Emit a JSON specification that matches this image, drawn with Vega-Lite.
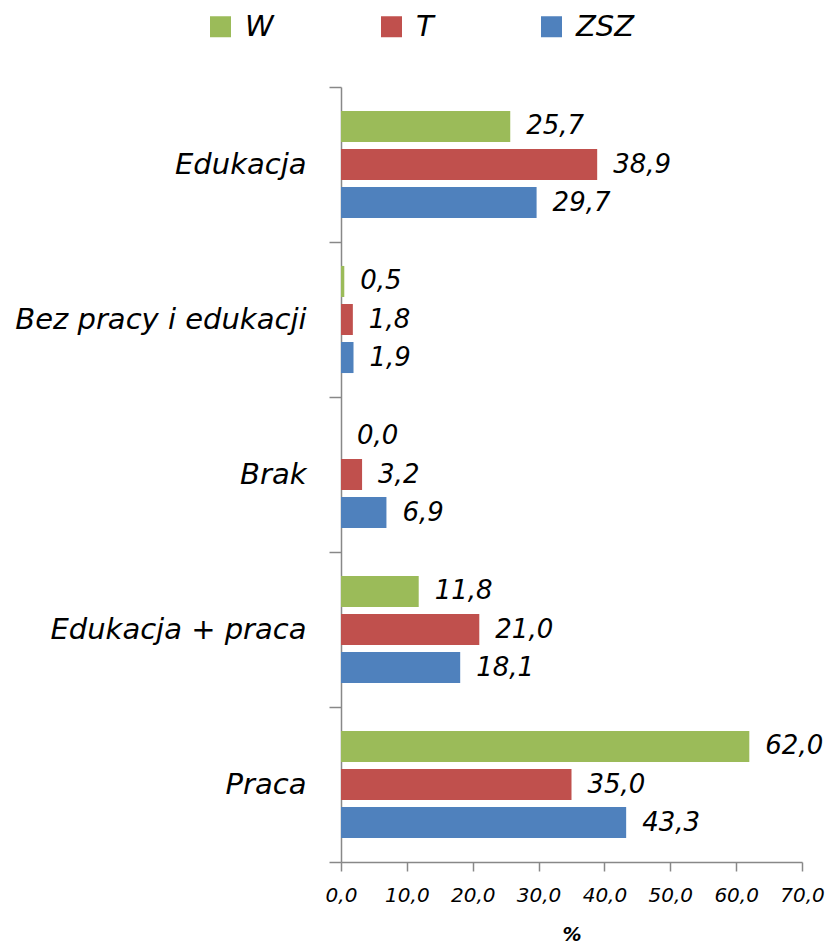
{
  "$schema": "https://vega.github.io/schema/vega-lite/v6.json",
  "width": 461,
  "height": 775,
  "autosize": "none",
  "padding": {"left": 341, "top": 87, "right": 27, "bottom": 86},
  "config": {
    "locale": {"number": {"decimal": ",", "thousands": " ", "grouping": [3], "currency": ["", " zł"]}},
    "view": {"stroke": null},
    "font": "DejaVu Sans"
  },
  "data": {
    "values": [
      {"cat": "Edukacja", "grp": "W", "v": 25.7},
      {"cat": "Edukacja", "grp": "T", "v": 38.9},
      {"cat": "Edukacja", "grp": "ZSZ", "v": 29.7},
      {"cat": "Bez pracy i edukacji", "grp": "W", "v": 0.5},
      {"cat": "Bez pracy i edukacji", "grp": "T", "v": 1.8},
      {"cat": "Bez pracy i edukacji", "grp": "ZSZ", "v": 1.9},
      {"cat": "Brak", "grp": "W", "v": 0.0},
      {"cat": "Brak", "grp": "T", "v": 3.2},
      {"cat": "Brak", "grp": "ZSZ", "v": 6.9},
      {"cat": "Edukacja + praca", "grp": "W", "v": 11.8},
      {"cat": "Edukacja + praca", "grp": "T", "v": 21.0},
      {"cat": "Edukacja + praca", "grp": "ZSZ", "v": 18.1},
      {"cat": "Praca", "grp": "W", "v": 62.0},
      {"cat": "Praca", "grp": "T", "v": 35.0},
      {"cat": "Praca", "grp": "ZSZ", "v": 43.3}
    ]
  },
  "encoding": {
    "y": {
      "field": "cat",
      "type": "nominal",
      "sort": ["Edukacja", "Bez pracy i edukacji", "Brak", "Edukacja + praca", "Praca"],
      "scale": {"paddingInner": 0, "paddingOuter": 0},
      "axis": {
        "title": null,
        "domainColor": "#888888",
        "domainWidth": 1.5,
        "tickColor": "#888888",
        "tickWidth": 1.5,
        "tickSize": 12,
        "tickBand": "extent",
        "labelFontSize": 29,
        "labelFontStyle": "italic",
        "labelColor": "#000000",
        "labelPadding": 23,
        "labelLimit": 400
      }
    },
    "yOffset": {
      "field": "grp",
      "type": "nominal",
      "sort": ["W", "T", "ZSZ"],
      "scale": {"paddingInner": 0.184, "paddingOuter": 0.63}
    },
    "x": {
      "field": "v",
      "type": "quantitative",
      "scale": {"domain": [0, 70], "nice": false},
      "axis": {
        "title": "%",
        "titleFontStyle": "italic",
        "titleFontWeight": "bold",
        "titleFontSize": 19,
        "titleColor": "#000000",
        "titlePadding": 20,
        "values": [0, 10, 20, 30, 40, 50, 60, 70],
        "format": ".1f",
        "grid": false,
        "domainColor": "#888888",
        "domainWidth": 1.5,
        "tickColor": "#888888",
        "tickWidth": 1.5,
        "tickSize": 9,
        "labelFontSize": 20,
        "labelFontStyle": "italic",
        "labelColor": "#000000",
        "labelPadding": 14,
        "labelFlush": false
      }
    }
  },
  "layer": [
    {
      "mark": {"type": "bar"},
      "encoding": {
        "color": {
          "field": "grp",
          "type": "nominal",
          "scale": {"domain": ["W", "T", "ZSZ"], "range": ["#9BBB59", "#C0504D", "#4F81BD"]},
          "legend": {
            "title": null,
            "orient": "none",
            "legendX": -135,
            "legendY": -75,
            "direction": "horizontal",
            "symbolType": "square",
            "symbolSize": 441,
            "symbolStrokeWidth": 0,
            "labelFontSize": 29,
            "labelFontStyle": "italic",
            "labelColor": "#000000",
            "labelOffset": 10,
            "columnPadding": 103,
            "padding": 0
          }
        }
      }
    },
    {
      "mark": {"type": "text", "align": "left", "baseline": "middle", "dx": 16, "fontStyle": "italic", "fontSize": 26, "color": "#000000"},
      "encoding": {"text": {"field": "v", "type": "quantitative", "format": ".1f"}}
    }
  ]
}
